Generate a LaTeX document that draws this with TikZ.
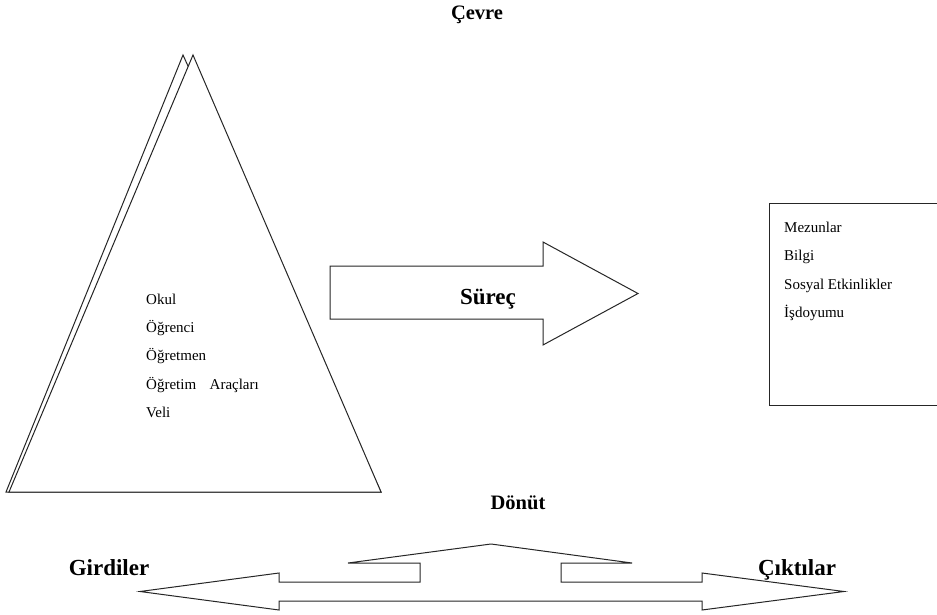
\documentclass[tikz,border=0pt]{standalone}
\usepackage{fontspec}
\setmainfont{Liberation Serif}
\begin{document}
\begin{tikzpicture}[x=1pt,y=-1pt,
  outline/.style={draw=black!85, line width=1pt, fill=white, line join=miter},
  item/.style={anchor=west, inner sep=0pt, text height=11pt, text depth=3pt,
    font=\fontsize{15}{18}\selectfont},
  heading/.style={inner sep=0pt, text height=13pt, text depth=0pt,
    font=\bfseries\fontsize{20.5}{24}\selectfont},
  bigheading/.style={inner sep=0pt, text height=15pt, text depth=0pt,
    font=\bfseries\fontsize{23}{27}\selectfont}]
\useasboundingbox (0,0) rectangle (937,615);

% Pyramid of inputs: back face first, front face over it
\draw[outline] (183,55) -- (6,492) -- (381,492) -- cycle;
\draw[outline] (193,55) -- (9,492) -- (381,492) -- cycle;

% Process arrow
\draw[outline] (330,266) -- (543,266) -- (543,242) -- (638,293.5)
  -- (543,345) -- (543,319) -- (330,319) -- cycle;

% Output box (runs off the right edge)
\draw[draw=black!85, line width=1pt] (937,203) -- (769,203) -- (769,405) -- (937,405);

% Feedback double arrow with the upward arrow on top
\draw[outline] (140,591.5) -- (279,573) -- (279,582) -- (420,582) -- (420,563)
  -- (348,563) -- (491,544) -- (632,563) -- (561,563) -- (561,582)
  -- (702,582) -- (702,573) -- (844,591.5) -- (702,610) -- (702,601)
  -- (279,601) -- (279,610) -- cycle;

% Headings
\node[heading] (cevre) at (477,13) {Çevre};
\node[heading] (donut) at (518,503) {Dönüt};
\node[bigheading] (surec) at (488,297) {Süreç};
\node[bigheading] (girdiler) at (109,568) {Girdiler};
\node[bigheading] (ciktilar) at (797,568) {Çıktılar};

% Inputs
\node[item] (okul) at (146,300) {Okul};
\node[item] (ogrenci) at (146,328) {Öğrenci};
\node[item] (ogretmen) at (146,356) {Öğretmen};
\node[item] (araclar) at (146,385) {Öğretim\hspace{0.9em}Araçları};
\node[item] (veli) at (146,413) {Veli};

% Outputs
\node[item] (mezunlar) at (784,228) {Mezunlar};
\node[item] (bilgi) at (784,256) {Bilgi};
\node[item] (sosyal) at (784,285) {Sosyal Etkinlikler};
\node[item] (isdoyumu) at (784,313) {İşdoyumu};
\end{tikzpicture}
\end{document}
